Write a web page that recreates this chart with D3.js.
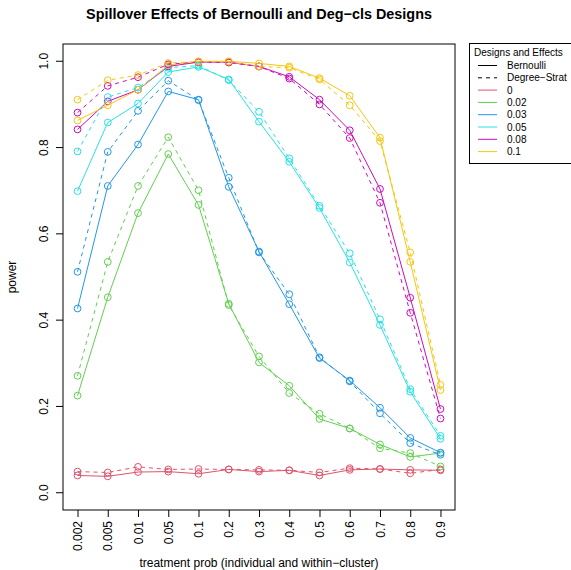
<!DOCTYPE html>
<html>
<head>
<meta charset="utf-8">
<script src="https://cdn.jsdelivr.net/npm/d3@7"></script>
<style>
    body { margin: 0; background: #fff; }
    svg { font-family: "Liberation Sans", Arial, Helvetica, sans-serif; }
</style>
</head>
<body>
<svg id="chart" width="571" height="570"></svg>
<script>
// treatment probabilities (x categories)
var probs = ['0.002', '0.005', '0.01', '0.05', '0.1', '0.2', '0.3', '0.4', '0.5', '0.6', '0.7', '0.8', '0.9'];
var effects = ['0', '0.02', '0.03', '0.05', '0.08', '0.1'];
var colors = ['#DF536B', '#61D04F', '#2297E6', '#28E2E5', '#CD0BBC', '#F5C710'];
var yTicks = [0, 0.2, 0.4, 0.6, 0.8, 1.0];

// Bernoulli design power, one array per effect size
var bern0   = [0.040, 0.038, 0.048, 0.049, 0.044, 0.054, 0.049, 0.052, 0.040, 0.053, 0.055, 0.053, 0.052];
var bern02  = [0.225, 0.453, 0.648, 0.785, 0.667, 0.438, 0.302, 0.248, 0.171, 0.149, 0.112, 0.083, 0.092];
var bern03  = [0.427, 0.711, 0.807, 0.930, 0.911, 0.709, 0.559, 0.437, 0.312, 0.260, 0.197, 0.127, 0.093];
var bern05  = [0.699, 0.858, 0.902, 0.975, 0.987, 0.958, 0.860, 0.767, 0.660, 0.534, 0.389, 0.234, 0.125];
var bern08  = [0.842, 0.907, 0.934, 0.988, 0.998, 0.998, 0.988, 0.964, 0.911, 0.840, 0.704, 0.452, 0.194];
var bern10  = [0.863, 0.898, 0.934, 0.991, 1.000, 1.000, 0.995, 0.988, 0.961, 0.920, 0.823, 0.535, 0.238];

// Degree-stratified cluster design power
var deg0    = [0.049, 0.047, 0.060, 0.054, 0.055, 0.054, 0.053, 0.052, 0.047, 0.057, 0.055, 0.045, 0.054];
var deg02   = [0.271, 0.535, 0.711, 0.824, 0.701, 0.435, 0.316, 0.231, 0.183, 0.149, 0.103, 0.092, 0.061];
var deg03   = [0.512, 0.790, 0.885, 0.955, 0.910, 0.730, 0.557, 0.460, 0.314, 0.258, 0.184, 0.115, 0.088];
var deg05   = [0.791, 0.917, 0.939, 0.985, 0.990, 0.956, 0.883, 0.775, 0.665, 0.555, 0.402, 0.240, 0.132];
var deg08   = [0.881, 0.943, 0.963, 0.993, 0.998, 0.997, 0.988, 0.960, 0.900, 0.822, 0.672, 0.417, 0.172];
var deg10   = [0.911, 0.956, 0.968, 0.996, 0.999, 0.999, 0.988, 0.985, 0.958, 0.898, 0.815, 0.557, 0.250];

var bernSeries = [bern0, bern02, bern03, bern05, bern08, bern10];
var degSeries = [deg0, deg02, deg03, deg05, deg08, deg10];

var svg = d3.select('#chart');
var plotL = 63, plotR = 455, plotT = 44, plotB = 510;

var x = d3.scalePoint().domain(probs).range([plotL, plotR]).padding(0.48);
var y = d3.scaleLinear().domain([-0.04, 1.04]).range([plotB, plotT]);

var line = d3.line()
    .x(function(d, i) { return x(probs[i]); })
    .y(function(d) { return y(d); });

function drawSeries(list, dash) {
    list.forEach(function(vals, k) {
        svg.append('path')
            .attr('d', line(vals))
            .attr('fill', 'none')
            .attr('stroke', colors[k])
            .attr('stroke-width', 1)
            .attr('stroke-dasharray', dash);
        svg.selectAll(null)
            .data(vals)
            .enter().append('circle')
            .attr('cx', function(d, i) { return x(probs[i]); })
            .attr('cy', function(d) { return y(d); })
            .attr('r', 3.4)
            .attr('fill', 'none')
            .attr('stroke', colors[k])
            .attr('stroke-width', 1);
    });
}

drawSeries(bernSeries, null);
drawSeries(degSeries, '4,4');

// box
svg.append('rect')
    .attr('x', plotL).attr('y', plotT)
    .attr('width', plotR - plotL).attr('height', plotB - plotT)
    .attr('fill', 'none').attr('stroke', '#000').attr('stroke-width', 1);

// x axis
var xAxis = svg.append('g')
    .attr('transform', 'translate(0,' + plotB + ')')
    .call(d3.axisBottom(x).tickSize(7).tickSizeOuter(0));
xAxis.select('.domain').remove();
xAxis.selectAll('text')
    .attr('font-size', 12)
    .attr('font-family', null)
    .attr('fill', '#000')
    .attr('transform', 'rotate(-90)')
    .attr('x', -11)
    .attr('y', 0)
    .attr('dy', '0.35em')
    .style('text-anchor', 'end');

// y axis
var yAxis = svg.append('g')
    .attr('transform', 'translate(' + plotL + ',0)')
    .call(d3.axisLeft(y).tickValues(yTicks).tickFormat(d3.format('.1f')).tickSize(7));
yAxis.select('.domain').remove();
yAxis.selectAll('.tick').attr('transform', null);
yAxis.selectAll('.tick line')
    .attr('y1', function(d) { return y(d); })
    .attr('y2', function(d) { return y(d); });
yAxis.selectAll('text')
    .attr('font-size', 12)
    .attr('font-family', null)
    .attr('fill', '#000')
    .attr('transform', function(d) { return 'translate(-19,' + y(d) + ') rotate(-90)'; })
    .attr('x', 0)
    .attr('y', 0)
    .attr('dy', '0.35em')
    .style('text-anchor', 'middle');

// titles
svg.append('text')
    .attr('x', (plotL + plotR) / 2).attr('y', 19)
    .attr('text-anchor', 'middle')
    .attr('font-size', 14.4).attr('font-weight', 'bold')
    .text('Spillover Effects of Bernoulli and Deg\u2212cls Designs');

svg.append('text')
    .attr('x', (plotL + plotR) / 2).attr('y', 567)
    .attr('text-anchor', 'middle')
    .attr('font-size', 12)
    .text('treatment prob (individual and within\u2212cluster)');

svg.append('text')
    .attr('transform', 'translate(16,' + (plotT + plotB) / 2 + ') rotate(-90)')
    .attr('text-anchor', 'middle')
    .attr('font-size', 12)
    .text('power');

// legend
var lg = svg.append('g');
lg.append('rect')
    .attr('x', 469.5).attr('y', 43.5)
    .attr('width', 110).attr('height', 120)
    .attr('fill', '#fff').attr('stroke', '#000').attr('stroke-width', 1);
lg.append('text')
    .attr('x', 474).attr('y', 55.5)
    .attr('font-size', 10)
    .text('Designs and Effects');

var legendItems = [
    { label: 'Bernoulli', color: '#000', dash: null },
    { label: 'Degree\u2212Strat', color: '#000', dash: '4,4' }
];
effects.forEach(function(e, k) {
    legendItems.push({ label: e, color: colors[k], dash: null });
});

legendItems.forEach(function(it, i) {
    var ly = 65.5 + i * 12.3;
    lg.append('line')
        .attr('x1', 478).attr('x2', 497)
        .attr('y1', ly).attr('y2', ly)
        .attr('stroke', it.color).attr('stroke-width', 1)
        .attr('stroke-dasharray', it.dash);
    lg.append('text')
        .attr('x', 507).attr('y', ly)
        .attr('dy', '0.35em')
        .attr('font-size', 10)
        .text(it.label);
});
</script>
</body>
</html>
